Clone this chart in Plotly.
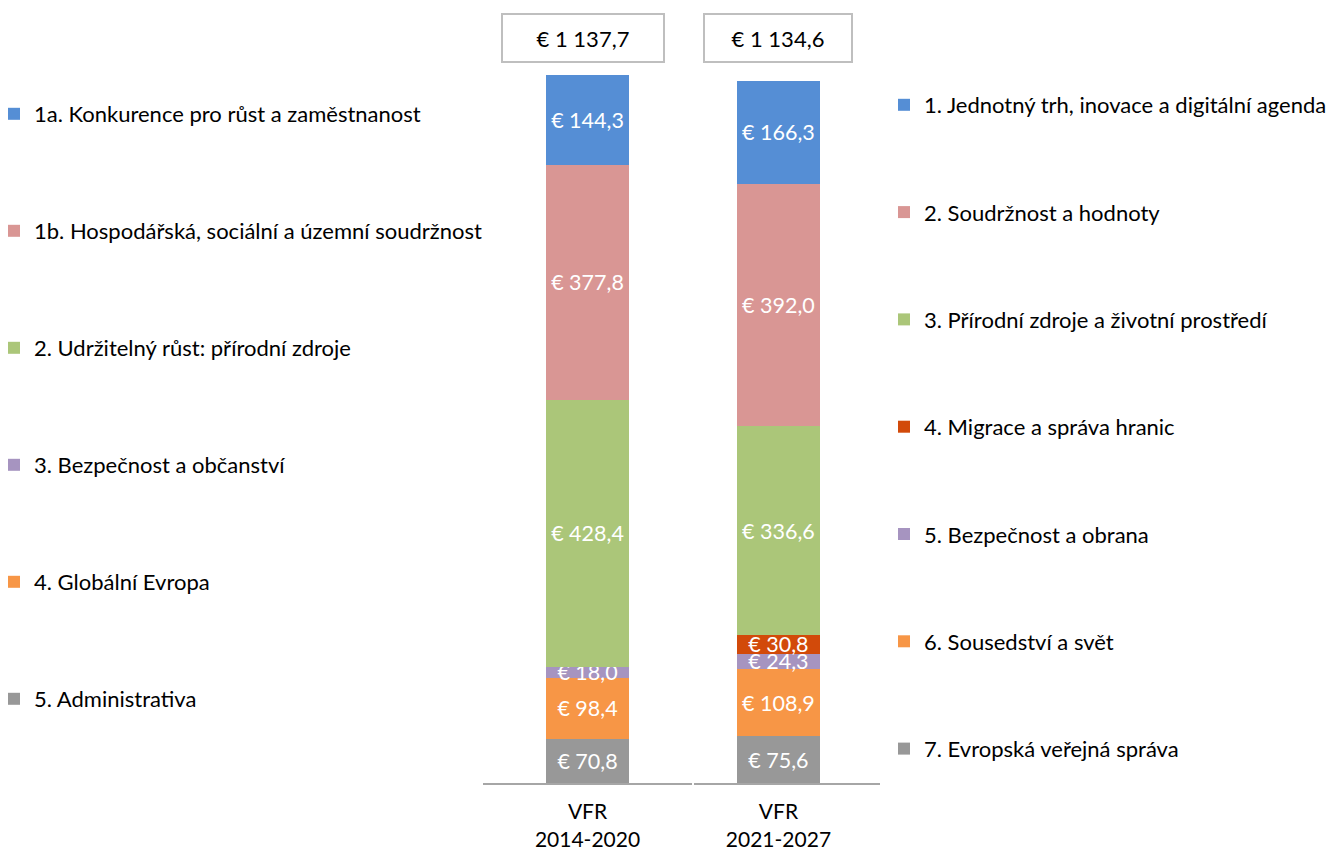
import plotly.graph_objects as go

# ---- data ----
cat_left = ["VFR<br>2014-2020"]
cat_right = ["VFR<br>2021-2027"]

left_names = ["5. Administrativa", "4. Globální Evropa", "3. Bezpečnost a občanství",
              "2. Udržitelný růst: přírodní zdroje",
              "1b. Hospodářská, sociální a územní soudržnost",
              "1a. Konkurence pro růst a zaměstnanost"]
left_values = [70.8, 98.4, 18.0, 428.4, 377.8, 144.3]
left_colors = ["#989898", "#F79646", "#A694C0", "#ABC679", "#D99694", "#558ED5"]

right_names = ["7. Evropská veřejná správa", "6. Sousedství a svět", "5. Bezpečnost a obrana",
               "4. Migrace a správa hranic", "3. Přírodní zdroje a životní prostředí",
               "2. Soudržnost a hodnoty", "1. Jednotný trh, inovace a digitální agenda"]
right_values = [75.6, 108.9, 24.3, 30.8, 336.6, 392.0, 166.3]
right_colors = ["#989898", "#F79646", "#A694C0", "#D24A0A", "#ABC679", "#D99694", "#558ED5"]

totals = ["€ 1 137,7", "€ 1 134,6"]

FONT = "Lato"
LBL = 21.5
LEG = 22


def fmt(v):
    return "€ " + f"{v:.1f}".replace(".", ",")


fig = go.Figure()
nL = len(left_names)
for i, (n, v, c) in enumerate(zip(left_names, left_values, left_colors)):
    fig.add_trace(go.Bar(x=cat_left, y=[v], name=n, marker_color=c, marker_line_width=0,
                         text=[fmt(v)], textposition="inside", insidetextanchor="middle",
                         textfont=dict(color="white", size=LBL, family=FONT),
                         width=0.4, xaxis="x", yaxis="y", legend="legend",
                         legendgroup="L" + str(i), legendrank=nL - i, hoverinfo="name+y"))
nR = len(right_names)
for i, (n, v, c) in enumerate(zip(right_names, right_values, right_colors)):
    fig.add_trace(go.Bar(x=cat_right, y=[v], name=n, marker_color=c, marker_line_width=0,
                         text=[fmt(v)], textposition="inside", insidetextanchor="middle",
                         textfont=dict(color="white", size=LBL, family=FONT),
                         width=0.446, xaxis="x2", yaxis="y2", legend="legend2",
                         legendgroup="R" + str(i), legendrank=nR - i, hoverinfo="name+y"))

W, H = 1336, 851
base = 783
fig.update_layout(
    width=W, height=H, barmode="stack",
    margin=dict(l=0, r=0, t=0, b=0, pad=0, autoexpand=False),
    paper_bgcolor="white", plot_bgcolor="white",
    font=dict(family=FONT, size=21, color="#000000"),
    uniformtext=dict(mode="show", minsize=LBL),
    xaxis=dict(domain=[483 / W, 692 / W], range=[-0.5, 0.5], showline=True,
               linecolor="#A6A6A6", linewidth=2, ticks="", showgrid=False,
               automargin=False, ticklabelstandoff=9,
               tickfont=dict(size=21, family=FONT, color="#000")),
    xaxis2=dict(domain=[694 / W, 880 / W], range=[-0.454, 0.546], showline=True,
                linecolor="#A6A6A6", linewidth=2, ticks="", showgrid=False,
                automargin=False, ticklabelstandoff=9,
                tickfont=dict(size=21, family=FONT, color="#000")),
    yaxis=dict(domain=[(H - base) / H, 1], range=[0, base / ((base - 75) / sum(left_values))],
               visible=False, anchor="x", automargin=False),
    yaxis2=dict(domain=[(H - base) / H, 1], range=[0, base / ((base - 81) / sum(right_values))],
                visible=False, anchor="x2", automargin=False),
    legend=dict(x=-6 / W, xanchor="left", y=1 - 93 / H, yanchor="top",
                traceorder="grouped", tracegroupgap=85.4,
                font=dict(size=LEG, family=FONT, color="#000"), bgcolor="rgba(0,0,0,0)"),
    legend2=dict(x=884 / W, xanchor="left", y=1 - 84 / H, yanchor="top",
                 traceorder="grouped", tracegroupgap=75.7,
                 font=dict(size=LEG, family=FONT, color="#000"), bgcolor="rgba(0,0,0,0)"),
)

fig.add_annotation(x=cat_left[0], xref="x", y=1 - 38 / H, yref="paper", yanchor="middle",
                   text=totals[0], showarrow=False, bordercolor="#BFBFBF", borderwidth=2,
                   width=158, height=44, bgcolor="white", xshift=-5,
                   font=dict(size=22, family=FONT, color="#000"))
fig.add_annotation(x=cat_right[0], xref="x2", y=1 - 38 / H, yref="paper", yanchor="middle",
                   text=totals[1], showarrow=False, bordercolor="#BFBFBF", borderwidth=2,
                   width=144, height=44, bgcolor="white",
                   font=dict(size=22, family=FONT, color="#000"))

fig.write_html("out.html", config={"displayModeBar": False},
               post_script="document.body.style.margin='0px';")
